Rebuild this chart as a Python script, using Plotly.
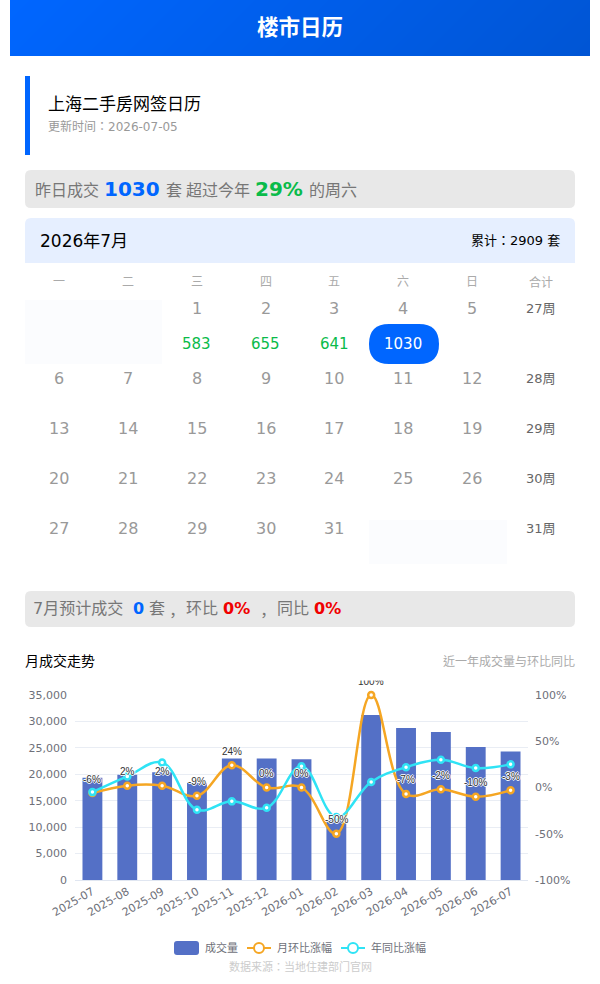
import plotly.graph_objects as go

FONT = "DejaVu Sans, Noto Sans CJK TC, sans-serif"
W, H = 600, 984

# Data
months = ["2025-07", "2025-08", "2025-09", "2025-10", "2025-11", "2025-12", "2026-01",
          "2026-02", "2026-03", "2026-04", "2026-05", "2026-06", "2026-07"]
volume = [19350, 19900, 20400, 18400, 23000, 23000, 22850, 11350, 31200, 28750, 28000, 25150, 24300]
mom_pct = [-6, 2, 2, -9, 24, 0, 0, -50, 100, -7, -2, -10, -3]
yoy_pct = [-5, 12, 27, -24, -15, -22, 23, -32, 6, 22, 30, 21, 25]
left_ticks = [0, 5000, 10000, 15000, 20000, 25000, 30000, 35000]
right_ticks = [-100, -50, 0, 50, 100]
right_tick_text = ["-100%", "-50%", "0%", "50%", "100%"]

weekdays = ["一", "二", "三", "四", "五", "六", "日", "合计"]
week_labels = ["27周", "28周", "29周", "30周", "31周"]
date_rows = [
    ["", "", "1", "2", "3", "4", "5"],
    ["6", "7", "8", "9", "10", "11", "12"],
    ["13", "14", "15", "16", "17", "18", "19"],
    ["20", "21", "22", "23", "24", "25", "26"],
    ["27", "28", "29", "30", "31", "", ""],
]
day_sales = ["", "", "583", "655", "641", "1030", ""]

# Colours
BLUE = "#0066ff"
GREEN = "#0abb4a"
RED = "#f00000"
BAR = "#5470C6"
ORANGE = "#F5A623"
CYAN = "#2FE3F5"
TICK = "#6E7079"
GRID = "#E9EDF4"


def px(x):
    return x / W


def py(y):
    return 1 - y / H


def label(x, y, text, size=12, color="#333", anchor="left", bold=False):
    # one line of text placed by page pixels
    if bold:
        text = f"<b>{text}</b>"
    return dict(x=px(x), y=py(y), xref="paper", yref="paper", text=text, showarrow=False,
                xanchor=anchor, yanchor="middle", align=anchor,
                font=dict(family=FONT, size=size, color=color), borderpad=0, borderwidth=0)


def rrect(x0, y0, x1, y1, r, color, bottom=True):
    # rounded box as a paper-coordinate path
    rb = r if bottom else 0
    pts = [
        f"M{px(x0 + r)},{py(y0)}", f"L{px(x1 - r)},{py(y0)}", f"Q{px(x1)},{py(y0)} {px(x1)},{py(y0 + r)}",
        f"L{px(x1)},{py(y1 - rb)}", f"Q{px(x1)},{py(y1)} {px(x1 - rb)},{py(y1)}",
        f"L{px(x0 + rb)},{py(y1)}", f"Q{px(x0)},{py(y1)} {px(x0)},{py(y1 - rb)}",
        f"L{px(x0)},{py(y0 + r)}", f"Q{px(x0)},{py(y0)} {px(x0 + r)},{py(y0)}", "Z",
    ]
    return dict(type="path", xref="paper", yref="paper", path=" ".join(pts),
                fillcolor=color, line=dict(width=0), layer="below")


fig = go.Figure()

# header gradient, 135deg across the banner
fig.add_trace(go.Heatmap(
    x=[0, 1], y=[0, 1], z=[[0.088, 1], [0, 0.912]], xaxis="x3", yaxis="y3",
    colorscale=[[0, "#0066ff"], [1, "#0055d4"]], zmin=0, zmax=1, zsmooth="best",
    showscale=False, hoverinfo="skip",
))

# monthly chart
fig.add_trace(go.Bar(x=months, y=volume, name="成交量", marker=dict(color=BAR, line=dict(width=0)),
                     xaxis="x", yaxis="y"))
fig.add_trace(go.Scatter(x=months, y=mom_pct, name="月环比涨幅", mode="lines+markers", xaxis="x", yaxis="y2",
                         cliponaxis=False,
                         line=dict(color=ORANGE, width=2.5, shape="spline", smoothing=1.1),
                         marker=dict(size=6, color="white", line=dict(color=ORANGE, width=2.5))))
fig.add_trace(go.Scatter(x=months, y=yoy_pct, name="年同比涨幅", mode="lines+markers", xaxis="x", yaxis="y2",
                         cliponaxis=False,
                         line=dict(color=CYAN, width=2.5, shape="spline", smoothing=1.1),
                         marker=dict(size=6, color="white", line=dict(color=CYAN, width=2.5))))

shapes = [
    dict(type="rect", xref="paper", yref="paper", x0=px(25), x1=px(30), y0=py(155), y1=py(76),
         fillcolor=BLUE, line=dict(width=0), layer="below"),
    rrect(25, 170, 575, 208, 6, "#e8e8e8"),
    rrect(25, 218, 575, 263, 6, "#e6efff", bottom=False),
    dict(type="rect", xref="paper", yref="paper", x0=px(25), x1=px(162), y0=py(364), y1=py(300),
         fillcolor="#fbfcfe", line=dict(width=0), layer="below"),
    dict(type="rect", xref="paper", yref="paper", x0=px(369), x1=px(507), y0=py(564), y1=py(520),
         fillcolor="#fbfcfe", line=dict(width=0), layer="below"),
    rrect(369, 324, 439, 364, 20, BLUE),
    rrect(25, 591, 575, 627, 6, "#e8e8e8"),
    # legend keys
    rrect(174, 941, 199, 955, 3, BAR),
]
for x_mid, color in [(259, ORANGE), (353, CYAN)]:
    shapes.append(dict(type="line", xref="paper", yref="paper", x0=px(x_mid - 12), x1=px(x_mid + 12),
                       y0=py(948), y1=py(948), line=dict(color=color, width=2), layer="below"))
    shapes.append(dict(type="circle", xref="paper", yref="paper", x0=px(x_mid - 5), x1=px(x_mid + 5),
                       y0=py(953), y1=py(943), fillcolor="white", line=dict(color=color, width=2), layer="below"))

ann = [
    label(300, 28, "楼市日历", 21.5, "white", "center", True),
    label(48, 104, "上海二手房网签日历", 17, "#000"),
    label(48, 127, "更新时间：2026-07-05", 12, "#999"),
    label(35, 190, "昨日成交", 16, "#777"),
    label(104, 189, "1030", 20, BLUE, bold=True),
    label(166, 190, "套", 16, "#777"),
    label(186, 190, "超过今年", 16, "#777"),
    label(255, 189, "29%", 20, GREEN, bold=True),
    label(309, 190, "的周六", 16, "#777"),
    label(40, 241, "2026年7月", 17, "#000"),
    label(560, 241, "累计：2909 套", 13, "#000", "right"),
    label(33, 608, "7月预计成交", 16, "#777"),
    label(133, 608, "0", 16, BLUE, bold=True),
    label(149, 608, "套", 16, "#777"),
    label(165, 615, "，", 16, "#777"),
    label(186, 608, "环比", 16, "#777"),
    label(223, 608, "0%", 16, RED, bold=True),
    label(256, 615, "，", 16, "#777"),
    label(277, 608, "同比", 16, "#777"),
    label(314, 608, "0%", 16, RED, bold=True),
    label(25, 661, "月成交走势", 14, "#000"),
    label(575, 661, "近一年成交量与环比同比", 12, "#aaa", "right"),
    label(205, 948, "成交量", 11, "#6E7079"),
    label(277, 948, "月环比涨幅", 11, "#6E7079"),
    label(371, 948, "年同比涨幅", 11, "#6E7079"),
    label(300, 967, "数据来源：当地住建部门官网", 11, "#ccc", "center"),
]

# calendar grid
col_x = [59.4 + 68.75 * i for i in range(8)]
row_y = [308, 378, 428, 478, 528]
for i, name in enumerate(weekdays):
    ann.append(label(col_x[i], 282, name, 12, "#aaa", "center"))
for r, row in enumerate(date_rows):
    for c, day in enumerate(row):
        if day:
            ann.append(label(col_x[c], row_y[r], day, 16, "#999", "center"))
    ann.append(label(col_x[7], row_y[r], week_labels[r], 13, "#666", "center"))
for c, sold in enumerate(day_sales):
    if sold:
        ann.append(label(col_x[c], 344, sold, 15, "white" if sold == "1030" else GREEN, "center"))

# month-on-month value labels, sitting above the orange points
for m, v in zip(months, mom_pct):
    ann.append(dict(x=m, y=v, xref="x", yref="y2", yshift=14, text=f"{v}%", showarrow=False,
                    font=dict(family="Liberation Sans Narrow, Liberation Sans", size=10, color="#333",
                              shadow="1px 0 0 #fff, -1px 0 0 #fff, 0 1px 0 #fff, 0 -1px 0 #fff")))
# the reference canvas cuts off the top of the 100% label
ann.append(dict(x=px(371), y=py(673.5), xref="paper", yref="paper", xanchor="center", yanchor="middle",
                text=".", showarrow=False, font=dict(color="white", size=8),
                width=40, height=13, bgcolor="white", borderpad=0))

fig.update_layout(
    width=W, height=H, autosize=False, margin=dict(l=0, r=0, t=0, b=0, autoexpand=False),
    paper_bgcolor="white", plot_bgcolor="white", showlegend=False, barmode="group", bargap=0.43,
    font=dict(family=FONT, size=11, color=TICK),
    shapes=shapes, annotations=ann,
    xaxis=dict(domain=[px(75), px(528)], anchor="y", type="category", range=[-0.5, 12.5], tickangle=-30,
               showgrid=False, showline=True, linecolor="#E0E6F1", linewidth=1, ticks="",
               tickfont=dict(size=11, color=TICK)),
    yaxis=dict(domain=[py(880), py(695)], anchor="x", range=[0, 35000], tickvals=left_ticks, tickformat=",d",
               showgrid=True, gridcolor=GRID, gridwidth=1, zeroline=False, showline=False, ticks="",
               tickfont=dict(size=11, color=TICK), ticklabelstandoff=7),
    yaxis2=dict(domain=[py(880), py(695)], anchor="x", overlaying="y", side="right", range=[-100, 100],
                tickvals=right_ticks, ticktext=right_tick_text, showgrid=False, zeroline=False, showline=False,
                ticks="", tickfont=dict(size=11, color=TICK), ticklabelstandoff=6),
    xaxis3=dict(domain=[px(10), px(590)], anchor="y3", range=[0, 1], visible=False, fixedrange=True),
    yaxis3=dict(domain=[py(56), 1], anchor="x3", range=[0, 1], visible=False, fixedrange=True),
)

fig.write_html("out.html", config=dict(displayModeBar=False),
               post_script="document.body.style.margin='0';")
